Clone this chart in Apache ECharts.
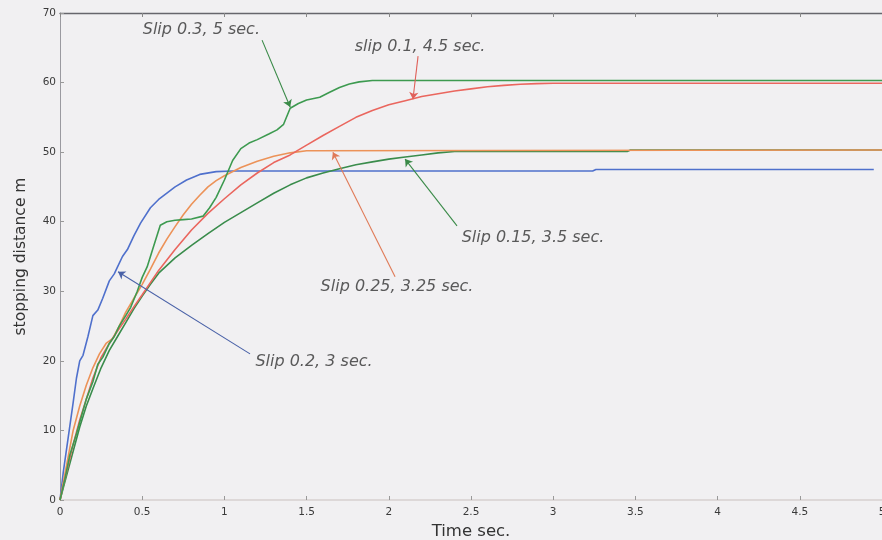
<!DOCTYPE html>
<html><head><meta charset="utf-8">
<script src="https://cdn.jsdelivr.net/npm/echarts@6/dist/echarts.min.js"></script>
<style>html,body{margin:0;padding:0;background:#f1f0f2}#c{width:882px;height:540px}</style>
</head><body><div id="c"></div>
<script>
const xTicks = ['0','0.5','1','1.5','2','2.5','3','3.5','4','4.5','5'];
const yTicks = ['0','10','20','30','40','50','60','70'];

const slip02 = [[0,0],[0.02,4],[0.05,9],[0.08,14],[0.1,17.5],[0.12,20],[0.14,20.8],[0.17,23.5],[0.2,26.5],[0.23,27.3],[0.26,29],[0.3,31.5],[0.33,32.5],[0.35,33.5],[0.38,35],[0.41,36],[0.45,38],[0.49,39.8],[0.55,42],[0.6,43.2],[0.65,44.1],[0.7,45],[0.77,46],[0.85,46.8],[0.95,47.2],[1.05,47.3],[3.24,47.3],[3.26,47.5],[4.95,47.5]];
const slip03 = [[0,0],[0.03,3],[0.06,6.5],[0.1,9.5],[0.13,12],[0.16,14.5],[0.2,17],[0.23,19.5],[0.26,20.5],[0.3,22.5],[0.33,23.5],[0.36,25],[0.4,26.5],[0.43,27.7],[0.47,30],[0.5,32],[0.53,33.5],[0.57,36.5],[0.61,39.5],[0.65,40],[0.7,40.2],[0.75,40.3],[0.8,40.4],[0.87,40.8],[0.91,42],[0.95,43.5],[1.0,46],[1.05,48.8],[1.1,50.5],[1.15,51.3],[1.2,51.8],[1.27,52.6],[1.32,53.2],[1.36,54],[1.4,56.3],[1.45,57],[1.5,57.5],[1.58,57.9],[1.64,58.6],[1.7,59.3],[1.76,59.8],[1.82,60.1],[1.9,60.3],[5,60.3]];
const slip01 = [[0,0],[0.04,4],[0.08,8],[0.12,11.5],[0.16,14.5],[0.2,17.5],[0.25,20.5],[0.3,22.5],[0.35,24.3],[0.4,26],[0.45,27.8],[0.5,29.5],[0.6,33],[0.7,36],[0.8,38.8],[0.9,41.2],[1.0,43.3],[1.1,45.3],[1.2,47],[1.3,48.5],[1.4,49.6],[1.5,51],[1.6,52.4],[1.7,53.7],[1.8,55],[1.9,56],[2.0,56.8],[2.1,57.4],[2.2,58],[2.3,58.4],[2.4,58.8],[2.5,59.1],[2.6,59.4],[2.7,59.6],[2.8,59.75],[2.9,59.85],[3.0,59.9],[5,59.9]];
const slip025 = [[0,0],[0.04,5],[0.08,10],[0.12,13.5],[0.16,16.5],[0.2,19],[0.24,21],[0.28,22.5],[0.32,23.2],[0.36,25],[0.4,27],[0.45,29],[0.5,31],[0.55,33.2],[0.6,35.5],[0.65,37.5],[0.7,39.3],[0.75,41],[0.8,42.5],[0.85,43.8],[0.9,45],[0.95,45.9],[1.0,46.6],[1.1,47.8],[1.2,48.7],[1.3,49.4],[1.4,49.9],[1.5,50.2],[5,50.3]];
const slip015 = [[0,0],[0.04,3.5],[0.08,7],[0.12,10.5],[0.16,13.5],[0.2,16],[0.25,19],[0.3,21.5],[0.35,23.5],[0.4,25.5],[0.45,27.5],[0.5,29.3],[0.55,31],[0.6,32.6],[0.7,34.8],[0.8,36.6],[0.9,38.3],[1.0,39.9],[1.1,41.3],[1.2,42.7],[1.3,44.1],[1.4,45.3],[1.5,46.3],[1.6,47],[1.7,47.6],[1.8,48.2],[1.9,48.6],[2.0,49],[2.1,49.3],[2.2,49.6],[2.3,49.9],[2.4,50.1],[3.45,50.1],[3.47,50.3],[5,50.3]];

const noteTexts = ['Slip 0.3, 5 sec.','slip 0.1, 4.5 sec.','Slip 0.15, 3.5 sec.','Slip 0.25, 3.25 sec.','Slip 0.2, 3 sec.'];
const notePos = [[0.86,67.6],[2.19,65.1],[2.877,37.7],[2.05,30.6],[1.545,19.8]];
const arrowFrom = [[1.229,66.1],[2.178,63.8],[2.415,39.4],[2.038,32.1],[1.156,21.0]];
const arrowTo = [[1.40,56.5],[2.147,57.6],[2.099,49.0],[1.66,50.0],[0.353,32.8]];

const colors = {s02:'#4f70cc', s03:'#3d9a50', s01:'#ea665e', s025:'#ec9258', s015:'#3a8c4c'};
const arrowColors = ['#3a8a48','#e0605a','#3a8a48','#e07a58','#4a62a8'];

function arrow(i, color){
  return {silent:true, symbol:['none','arrow'], symbolSize:7, label:{show:false},
    lineStyle:{color:color, width:1.1, type:'solid'},
    data:[[{coord:arrowFrom[i]},{coord:arrowTo[i]}]]};
}
function lineSeries(name, data, color, noteIdx){
  const s = {name, type:'line', data, showSymbol:false, symbol:'none', smooth:false,
    lineStyle:{color, width:1.6}, itemStyle:{color}, z:3};
  if (noteIdx !== undefined) s.markLine = arrow(noteIdx, arrowColors[noteIdx]);
  return s;
}

const font = '"DejaVu Sans", "Liberation Sans", sans-serif';
const chart = echarts.init(document.getElementById('c'));
chart.setOption({
  animation:false,
  backgroundColor:'#f1f0f2',
  grid:{left:60, right:0, top:13, bottom:40, containLabel:false, outerBoundsMode:'none'},
  xAxis:[{type:'value', min:0, max:5, interval:0.5, position:'bottom',
    name:'Time sec.', nameLocation:'middle', nameGap:23,
    nameTextStyle:{color:'#333', fontSize:16.5, fontFamily:font},
    axisLine:{show:true, lineStyle:{color:'#d6cfd0', width:1.5}},
    axisTick:{show:true, inside:true, length:4, lineStyle:{color:'#999'}},
    axisLabel:{color:'#3a3a3a', fontSize:10.5, fontFamily:font, margin:7,
      formatter:(v)=>xTicks[Math.round(v*2)]},
    splitLine:{show:false}},
   {type:'value', min:0, max:5, interval:0.5, position:'top',
    axisLine:{show:true, lineStyle:{color:'#66666c', width:1.3}},
    axisTick:{show:true, inside:true, length:4, lineStyle:{color:'#888'}},
    axisLabel:{show:false}, splitLine:{show:false}}],
  yAxis:{type:'value', min:0, max:70, interval:10,
    name:'stopping distance m', nameLocation:'middle', nameGap:31,
    nameTextStyle:{color:'#333', fontSize:15.5, fontFamily:font},
    axisLine:{show:true, lineStyle:{color:'#9a9aa0', width:1}},
    axisTick:{show:true, inside:true, length:4, lineStyle:{color:'#999'}},
    axisLabel:{color:'#3a3a3a', fontSize:10.5, fontFamily:font, margin:4,
      formatter:(v)=>yTicks[Math.round(v/10)]},
    splitLine:{show:false}},
  series:[
    lineSeries('Slip 0.2', slip02, colors.s02, 4),
    lineSeries('Slip 0.15', slip015, colors.s015, 2),
    lineSeries('Slip 0.25', slip025, colors.s025, 3),
    lineSeries('Slip 0.1', slip01, colors.s01, 1),
    lineSeries('Slip 0.3', slip03, colors.s03, 0),
    {type:'scatter', symbolSize:1, itemStyle:{color:'transparent'}, silent:true, z:5,
      data: noteTexts.map((t,i)=>({name:t, value:notePos[i]})),
      label:{show:true, position:'inside', formatter:'{b}', color:'#333',
        fontSize:16, fontStyle:'italic', fontFamily:font}}
  ]
});
</script></body></html>
